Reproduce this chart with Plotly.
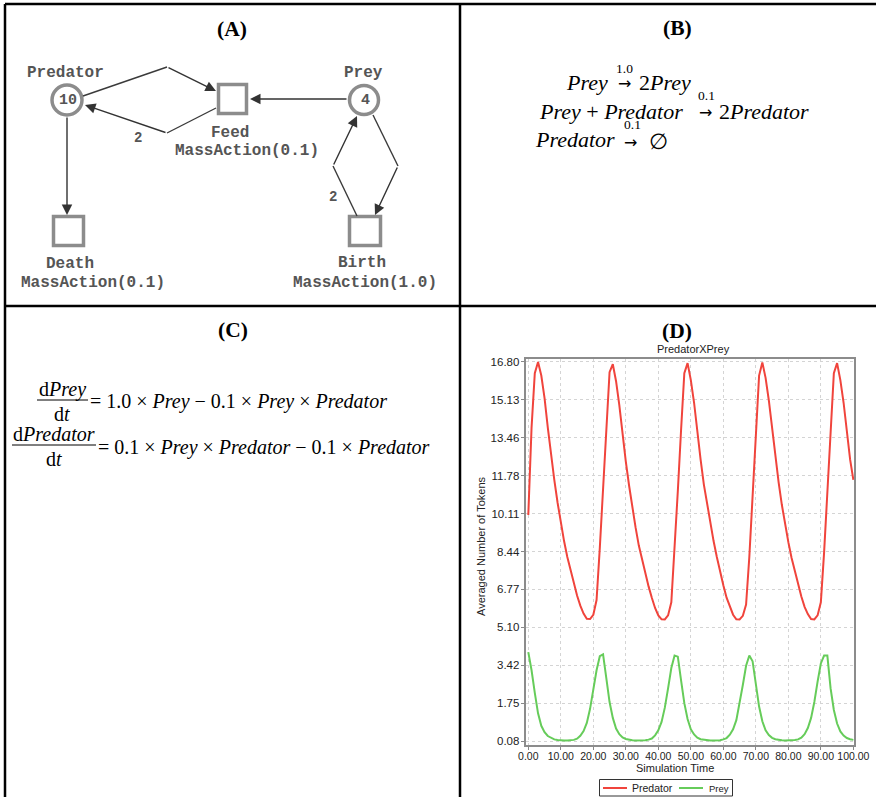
import plotly.graph_objects as go

# ---------------- data (panel D) ----------------
time = list(range(0, 101))
predator = [10.05, 13.9, 16.3, 16.8, 16.2, 15.2, 13.9, 12.7, 11.6, 10.6,
            9.7, 8.9, 8.2, 7.6, 7.05, 6.5, 6.05, 5.7, 5.47, 5.46,
            5.65, 6.3, 8.6, 11.3, 14.0, 16.35, 16.7, 15.95, 14.9, 13.6,
            12.4, 11.35, 10.35, 9.5, 8.7, 8.05, 7.45, 6.9, 6.4, 5.95,
            5.62, 5.45, 5.44, 5.62, 6.2, 8.4, 11.1, 13.8, 16.3, 16.75,
            16.0, 15.0, 13.65, 12.5, 11.4, 10.55, 9.7, 8.9, 8.2, 7.5,
            6.95, 6.4, 6.0, 5.65, 5.45, 5.44, 5.6, 6.1, 8.2, 10.9,
            13.6, 16.2, 16.78, 16.1, 15.1, 13.8, 12.6, 11.5, 10.5, 9.6,
            8.85, 8.15, 7.55, 7.0, 6.45, 6.0, 5.68, 5.46, 5.44, 5.62,
            6.2, 8.4, 11.1, 13.8, 16.3, 16.75, 16.0, 15.0, 13.65, 12.5,
            11.6]
prey = [4.0, 3.2, 2.2, 1.3, 0.75, 0.47, 0.3, 0.21, 0.15, 0.12,
        0.1, 0.1, 0.1, 0.11, 0.13, 0.18, 0.31, 0.52, 0.88, 1.5,
        2.33, 3.2, 3.82, 3.9, 2.85, 1.8, 1.1, 0.63, 0.38, 0.24,
        0.17, 0.13, 0.11, 0.1, 0.1, 0.1, 0.11, 0.14, 0.19, 0.33,
        0.55, 0.92, 1.55, 2.4, 3.3, 3.85, 3.8, 2.75, 1.75, 1.05,
        0.6, 0.37, 0.23, 0.16, 0.13, 0.11, 0.1, 0.1, 0.1, 0.11,
        0.15, 0.21, 0.36, 0.6, 1.0, 1.7, 2.55, 3.4, 3.85, 3.6,
        2.55, 1.6, 0.95, 0.55, 0.34, 0.22, 0.16, 0.12, 0.11, 0.1,
        0.1, 0.1, 0.12, 0.15, 0.23, 0.38, 0.65, 1.1, 1.8, 2.7,
        3.5, 3.85, 3.85, 2.4, 1.45, 0.85, 0.5, 0.32, 0.21, 0.16,
        0.13]
series_names = ["Predator", "Prey"]
series_colors = ["#f0443c", "#66cc5a"]
y_tick_vals = [0.08, 1.75, 3.42, 5.10, 6.77, 8.44, 10.11, 11.78, 13.46, 15.13, 16.80]
y_tick_text = ["0.08", "1.75", "3.42", "5.10", "6.77", "8.44", "10.11", "11.78", "13.46", "15.13", "16.80"]
x_tick_vals = [0, 10, 20, 30, 40, 50, 60, 70, 80, 90, 100]
x_tick_text = ["0.00", "10.00", "20.00", "30.00", "40.00", "50.00", "60.00", "70.00", "80.00", "90.00", "100.00"]

W, H = 876, 797
SANS = "Liberation Sans"
SERIF = "Liberation Serif"
MONO = "Liberation Mono"


def PX(x):
    return x / W


def PY(y):
    return 1 - y / H


fig = go.Figure()
for name, ys, col in zip(series_names, [predator, prey], series_colors):
    fig.add_trace(go.Scatter(x=time, y=ys, mode="lines", name=name, showlegend=False,
                             line=dict(color=col, width=2)))

shapes = []
annos = []


def line(x0, y0, x1, y1, color="black", width=2.5):
    shapes.append(dict(type="line", xref="paper", yref="paper", x0=PX(x0), y0=PY(y0),
                       x1=PX(x1), y1=PY(y1), line=dict(color=color, width=width), layer="above"))


def text(x, y, s, size, family=SERIF, color="black", xanchor="center", yanchor="middle", angle=0):
    annos.append(dict(x=PX(x), y=PY(y), xref="paper", yref="paper", text=s, showarrow=False,
                      font=dict(family=family, size=size, color=color),
                      xanchor=xanchor, yanchor=yanchor, textangle=angle, borderpad=0))


def arrow(tx, ty, hx, hy, color="#333333"):
    annos.append(dict(x=PX(hx), y=PY(hy), xref="paper", yref="paper",
                      ax=tx - hx, ay=ty - hy, axref="pixel", ayref="pixel",
                      text="", showarrow=True, arrowhead=2, arrowsize=1.5, arrowwidth=1.4,
                      arrowcolor=color, standoff=0, startstandoff=0))


# ---------------- frame ----------------
line(5, 4, 876, 4)
line(5, 4, 5, 797)
line(460, 4, 460, 797)
line(5, 306, 876, 306)

text(232, 29, "<b>(A)</b>", 21.5)
text(677, 28, "<b>(B)</b>", 21.5)
text(233, 330, "<b>(C)</b>", 21.5)
text(677, 331, "<b>(D)</b>", 21.5)

# ---------------- panel A: Petri net ----------------
NODE = "#8c8c8c"
ARC = "#3a3a3a"
LBL = "#555555"
for cx, cy, r in [(67, 100, 15), (364, 100, 14.5)]:
    shapes.append(dict(type="circle", xref="paper", yref="paper", x0=PX(cx - r), x1=PX(cx + r),
                       y0=PY(cy - r), y1=PY(cy + r),
                       line=dict(color=NODE, width=3.5), fillcolor="white", layer="above"))
for x0, x1, y0, y1 in [(218.5, 246.5, 84.5, 113.5), (53.5, 83.5, 216.5, 245.5), (349.5, 380.5, 216.5, 245.5)]:
    shapes.append(dict(type="rect", xref="paper", yref="paper", x0=PX(x0), x1=PX(x1), y0=PY(y0), y1=PY(y1),
                       line=dict(color=NODE, width=3.5), fillcolor="white", layer="above"))

line(83, 96, 167, 67, ARC, 1.4)
arrow(167, 67, 216, 91)
line(216, 108, 167, 133, ARC, 1.4)
arrow(167, 133, 85, 105)
arrow(348, 99, 250, 99)
arrow(67, 116, 67, 215)
line(373, 115, 398, 166, ARC, 1.4)
arrow(398, 166, 375, 215)
line(357, 216, 333, 166, ARC, 1.4)
arrow(333, 166, 357, 116)

AS = 16
text(65, 73, "<b>Predator</b>", AS, MONO, LBL)
text(68, 101, "<b>10</b>", 15, MONO, LBL)
text(363, 73, "<b>Prey</b>", AS, MONO, LBL)
text(365, 101, "<b>4</b>", 15, MONO, LBL)
text(230, 133, "<b>Feed</b>", AS, MONO, LBL)
text(247, 151, "<b>MassAction(0.1)</b>", AS, MONO, LBL)
text(70, 264, "<b>Death</b>", AS, MONO, LBL)
text(93, 283, "<b>MassAction(0.1)</b>", AS, MONO, LBL)
text(362, 263, "<b>Birth</b>", AS, MONO, LBL)
text(365, 283, "<b>MassAction(1.0)</b>", AS, MONO, LBL)
text(138, 138, "<b>2</b>", 14, MONO, LBL)
text(333, 197, "<b>2</b>", 14, MONO, LBL)

# ---------------- panel B: reactions ----------------
MS = 22
AR = "DejaVu Sans"
text(609, 82, "<i>Prey</i>", MS, xanchor="right")
text(624, 84, "→", 16, AR)
text(638, 82, "2<i>Prey</i>", MS, xanchor="left")
text(624, 68, "1.0", 13.5)

text(684, 111, "<i>Prey</i> + <i>Predator</i>", MS, xanchor="right")
text(705, 113, "→", 16, AR)
text(718, 111, "2<i>Predator</i>", MS, xanchor="left")
text(706, 96, "0.1", 13.5)

text(616, 140, "<i>Predator</i>", MS, xanchor="right")
text(630, 142, "→", 16, AR)
text(648, 141, "∅", MS, xanchor="left")
text(632, 125, "0.1", 13.5)

# ---------------- panel C: ODEs ----------------
CS = 20
text(62, 389, "d<i>Prey</i>", CS)
line(37, 400, 88, 400, "black", 1)
text(62, 414, "d<i>t</i>", CS)
text(89, 402, "= 1.0 × <i>Prey</i> − 0.1 × <i>Prey</i> × <i>Predator</i>", CS, xanchor="left")

text(54, 434, "d<i>Predator</i>", CS)
line(12, 445, 96, 445, "black", 1)
text(54, 459, "d<i>t</i>", CS)
text(97, 447, "= 0.1 × <i>Prey</i> × <i>Predator</i> − 0.1 × <i>Predator</i>", CS, xanchor="left")

# ---------------- panel D extras ----------------
text(693, 349, "PredatorXPrey", 11, SANS, "#222")
text(675, 768, "Simulation Time", 11, SANS, "#222")
text(481, 546, "Averaged Number of Tokens", 11, SANS, "#222", angle=-90)

shapes.append(dict(type="rect", xref="paper", yref="paper", x0=PX(599.5), x1=PX(732.5),
                   y0=PY(779.5), y1=PY(796),
                   line=dict(color="#333333", width=1), fillcolor="white", layer="above"))
line(603, 788, 627, 788, series_colors[0], 2)
text(631, 787.5, series_names[0], 10.5, SANS, "#222", xanchor="left")
line(679, 788, 703, 788, series_colors[1], 2)
text(708, 788, series_names[1], 9.5, SANS, "#222", xanchor="left")

axis_common = dict(ticks="outside", ticklen=3, tickcolor="#888888", showline=True,
                   linecolor="#8c8c8c", linewidth=2, mirror=True, showgrid=True,
                   gridcolor="#d4d4d4", griddash="dot", gridwidth=1, zeroline=False,
                   automargin=False)

fig.update_layout(
    width=W, height=H, margin=dict(l=0, r=0, t=0, b=0, autoexpand=False),
    paper_bgcolor="white", plot_bgcolor="white",
    xaxis=dict(domain=[PX(525.7), PX(854)], range=[-0.8, 100.2], tickvals=x_tick_vals,
               ticktext=x_tick_text, tickfont=dict(family=SANS, size=10.5, color="#222"),
               ticklabelstandoff=-3, anchor="y", **axis_common),
    yaxis=dict(domain=[PY(745), PY(359)], range=[-0.096, 16.93], tickvals=y_tick_vals,
               ticktext=y_tick_text, tickfont=dict(family=SANS, size=11.5, color="#222"),
               ticklabelstandoff=-1, anchor="x", **axis_common),
    showlegend=False,
    shapes=shapes, annotations=annos,
)

fig.write_html("out.html", config={"responsive": False})
